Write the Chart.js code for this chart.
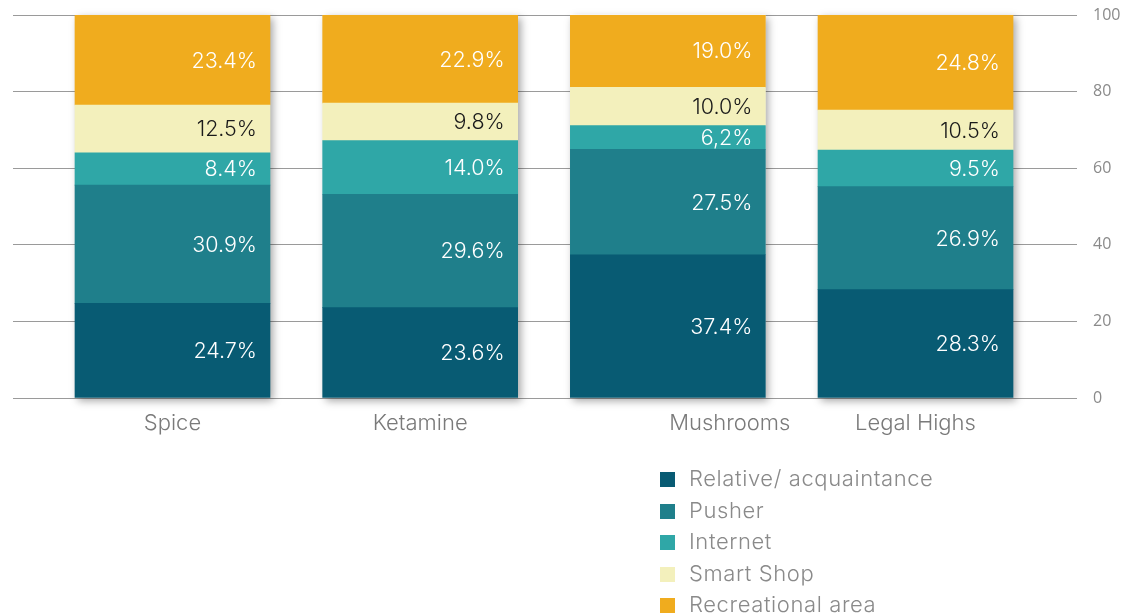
<!DOCTYPE html>
<html>
<head>
<meta charset="utf-8">
<script src="https://cdn.jsdelivr.net/npm/chart.js@4/dist/chart.umd.min.js"></script>
<style>
  html,body{margin:0;padding:0;background:#fff;}
  #wrap{position:relative;width:1124px;height:614px;overflow:hidden;}
  #legend{position:absolute;left:660px;top:463px;font-family:"Inter",sans-serif;font-weight:300;font-size:22px;letter-spacing:0.6px;color:#8a8a8a;}
  #legend div{height:31.5px;line-height:31.5px;white-space:nowrap;}
  #legend span{display:inline-block;width:15px;height:15px;margin-right:14px;vertical-align:-1px;}
</style>
</head>
<body>
<div id="wrap">
  <canvas id="chart"></canvas>
  <div id="legend"></div>
</div>
<script>
// data
const categories=['Spice','Ketamine','Mushrooms','Legal Highs'];
const seriesNames=['Relative/ acquaintance','Pusher','Internet','Smart Shop','Recreational area'];
const relative=[24.7,23.6,37.4,28.3];
const pusher=[30.9,29.6,27.5,26.9];
const internet=[8.4,14.0,6.2,9.5];
const smartShop=[12.5,9.8,10.0,10.5];
const recreational=[23.4,22.9,19.0,24.8];
const yTicks=[0,20,40,60,80,100];
// the source writes this one value with a comma
const commaLabels={'Internet':[2]};

const colors=['#085b73','#1f7f8b','#2fa7a7','#f3f0bc','#f0ac1e'];
const labelColors=['#ffffff','#ffffff','#ffffff','#1a1a1a','#ffffff'];
const allSeries=[relative,pusher,internet,smartShop,recreational];
// mushrooms label sits a bit right of its bar in the original
const labelShift=[0,0,0.25,0];

const FONT='"Inter", sans-serif';

// shadow behind each full stack
const shadowPlugin={
  id:'stackShadow',
  beforeDatasetsDraw(chart){
    const ctx=chart.ctx;
    const first=chart.getDatasetMeta(0).data;
    const last=chart.getDatasetMeta(chart.data.datasets.length-1).data;
    ctx.save();
    ctx.shadowColor='rgba(0,0,0,0.35)';
    ctx.shadowBlur=8;
    ctx.shadowOffsetX=3;
    ctx.shadowOffsetY=3;
    ctx.fillStyle='#ffffff';
    first.forEach((b,i)=>{
      const t=last[i];
      ctx.fillRect(b.x-b.width/2,t.y,b.width,b.base-t.y);
    });
    ctx.restore();
  }
};

// value labels, right aligned inside each segment
const valuePlugin={
  id:'valueLabels',
  afterDatasetsDraw(chart){
    const ctx=chart.ctx;
    ctx.save();
    ctx.font='300 21.5px '+FONT;
    ctx.textAlign='right';
    ctx.textBaseline='middle';
    chart.data.datasets.forEach((ds,di)=>{
      const meta=chart.getDatasetMeta(di);
      meta.data.forEach((bar,i)=>{
        let txt=allSeries[di][i].toFixed(1);
        const c=commaLabels[seriesNames[di]];
        if(c && c.includes(i)) txt=txt.replace('.',',');
        ctx.fillStyle=labelColors[di];
        ctx.fillText(txt+'%',bar.x+bar.width/2-13,(bar.y+bar.base)/2+1);
      });
    });
    ctx.restore();
  }
};

new Chart(document.getElementById('chart'),{
  type:'bar',
  data:{
    datasets:seriesNames.map((name,di)=>({
      label:name,
      data:allSeries[di].map((v,i)=>({x:i,y:v})),
      backgroundColor:colors[di],
      borderWidth:0,
      barThickness:195
    }))
  },
  options:{
    responsive:true,
    maintainAspectRatio:false,
    animation:false,
    layout:{padding:{top:15,left:13,right:0,bottom:0}},
    plugins:{legend:{display:false},tooltip:{enabled:false}},
    scales:{
      x:{
        type:'linear',
        stacked:true,
        offset:false,
        min:-0.644,
        max:3.652,
        grid:{display:false,offset:false},
        border:{display:false},
        afterBuildTicks(scale){
          scale.ticks=categories.map((c,i)=>({value:i+labelShift[i]}));
        },
        afterFit(scale){scale.height=216;scale.paddingLeft=0;scale.paddingRight=0;},
        ticks:{
          padding:4,
          color:'#7a7a7a',
          font:{family:FONT,size:22,weight:300},
          maxRotation:0,
          autoSkip:false,
          callback:(v,i)=>categories[i]
        }
      },
      y:{
        position:'right',
        stacked:true,
        min:0,
        max:100,
        afterBuildTicks(scale){
          scale.ticks=yTicks.map(v=>({value:v}));
        },
        afterFit(scale){scale.width=47;scale.paddingTop=0;scale.paddingBottom=0;},
        grid:{color:'#9a9a9a',lineWidth:1,drawTicks:false},
        border:{display:false},
        ticks:{
          padding:16,
          color:'#8a8a8a',
          font:{family:'"Open Sans", sans-serif',size:16}
        }
      }
    }
  },
  plugins:[shadowPlugin,valuePlugin]
});

// legend
const lg=document.getElementById('legend');
seriesNames.forEach((n,i)=>{
  const d=document.createElement('div');
  d.innerHTML='<span style="background:'+colors[i]+'"></span>'+n;
  lg.appendChild(d);
});
</script>
</body>
</html>
